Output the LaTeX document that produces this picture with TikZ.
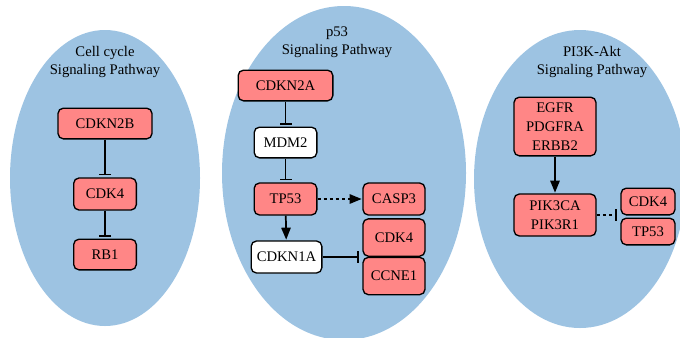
\documentclass[tikz,border=0pt]{standalone}
\usepackage{fontspec}
\setmainfont{Liberation Serif}
\usetikzlibrary{arrows.meta}
\usetikzlibrary{calc}
\definecolor{pathblue}{RGB}{157,195,226}
\definecolor{genered}{RGB}{255,134,134}

\tikzset{
  gene/.style={draw=black, line width=1pt, rounded corners=4pt, fill=genered,
    inner sep=0pt, minimum height=23pt, align=center,
    font=\rmfamily\fontsize{11}{14}\selectfont},
  other/.style={gene, fill=white},
  title/.style={align=center, font=\rmfamily\fontsize{11}{13.5}\selectfont},
  inhibit/.style={-{Bar[width=9pt,line width=1.3pt]}, line width=1.3pt, shorten >=1.5pt},
  activate/.style={-{Triangle[length=9pt,width=7pt]}, line width=1.3pt, shorten >=0.5pt},
  weak/.style={dash pattern=on 2.4pt off 2.2pt},
}

\begin{document}
\begin{tikzpicture}[x=0.75pt, y=-0.75pt]
\useasboundingbox (0,0) rectangle (680,337);

% Three pathway ellipses
\fill[pathblue] (105,178) ellipse [x radius=95, y radius=148];
\fill[pathblue] (344,173) ellipse [x radius=122, y radius=167];
\fill[pathblue] (580,179) ellipse [x radius=106, y radius=149];

% Cell cycle
\node[title] (tcell) at (105,62) {Cell cycle\\Signaling Pathway};
\node[gene, minimum width=70.5pt] (cdkn2b) at (105,123.5) {CDKN2B};
\node[gene, minimum width=47pt, minimum height=24pt] (cdk4a) at (105,194) {CDK4};
\node[gene, minimum width=47pt] (rb1) at (105,254.5) {RB1};
\draw[inhibit] (cdkn2b) -- (cdk4a);
\draw[inhibit] (cdk4a) -- (rb1);

% p53
\node[title] (tp53path) at (337,42) {p53\\Signaling Pathway};
\node[gene, minimum width=71pt] (cdkn2a) at (285.5,85.5) {CDKN2A};
\node[other, minimum width=47pt] (mdm2) at (285.5,142.5) {MDM2};
\node[gene, minimum width=47pt, minimum height=24pt] (tp53a) at (285.5,199) {TP53};
\node[other, minimum width=53pt, minimum height=24pt] (cdkn1a) at (286.5,257) {CDKN1A};
\node[gene, minimum width=46.5pt, minimum height=24pt] (casp3) at (394,199) {CASP3};
\node[gene, minimum width=46.5pt, minimum height=28pt] (cdk4b) at (394,237.5) {CDK4};
\node[gene, minimum width=46.5pt, minimum height=28pt] (ccne1) at (394,276) {CCNE1};
\draw[inhibit] (cdkn2a) -- (mdm2);
\draw[inhibit] (mdm2) -- (tp53a);
\draw[activate, weak] (tp53a) -- (casp3);
\draw[activate] (tp53a) -- (cdkn1a);
\draw[inhibit, shorten >=2.5pt] (cdkn1a.east) -- (cdkn1a.east -| ccne1.west);

% PI3K-Akt
\node[title] (tpi3k) at (592,62) {PI3K-Akt\\Signaling Pathway};
\node[gene, minimum width=61.5pt, minimum height=44pt] (egfr) at (555,126.5) {EGFR\\PDGFRA\\ERBB2};
\node[gene, minimum width=61.5pt, minimum height=31.5pt] (pik3) at (555,215) {PIK3CA\\PIK3R1};
\node[gene, minimum width=40.5pt, minimum height=20pt] (cdk4c) at (648,201.5) {CDK4};
\node[gene, minimum width=40.5pt, minimum height=20pt] (tp53b) at (648,231.5) {TP53};
\draw[activate] (egfr) -- (pik3);
\draw[inhibit, weak, shorten >=2.5pt] (pik3.east) -- (pik3.east -| cdk4c.west);
\end{tikzpicture}
\end{document}
